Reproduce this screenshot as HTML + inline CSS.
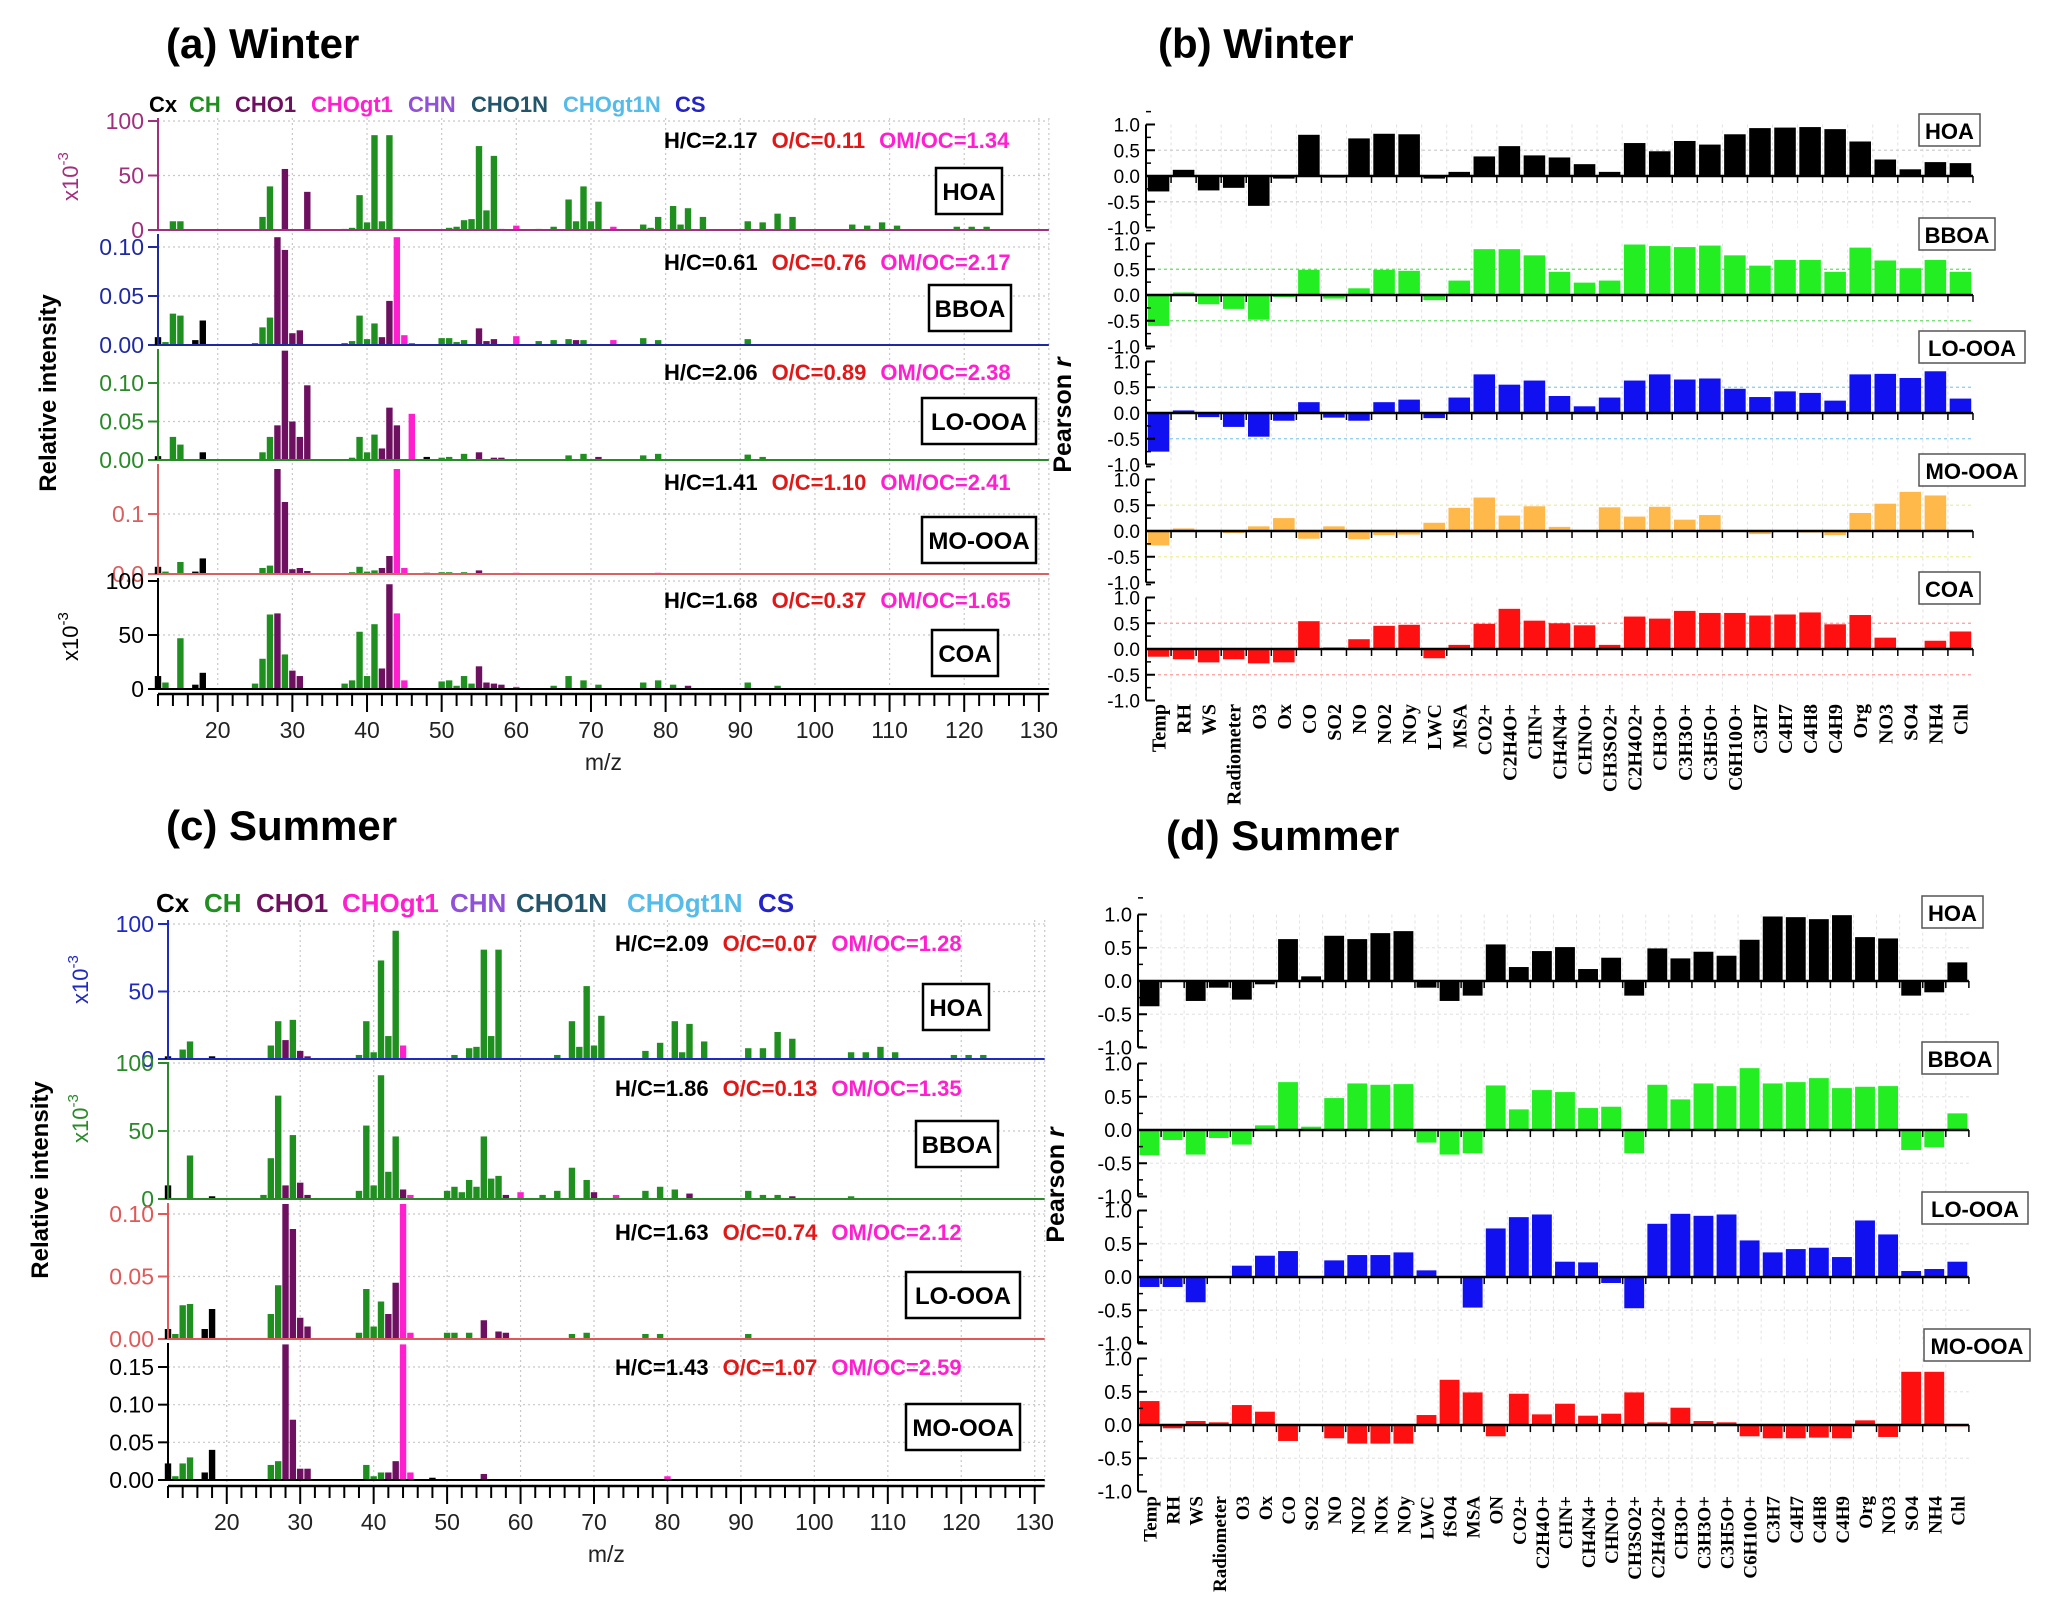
<!DOCTYPE html>
<html><head><meta charset="utf-8"><style>
html,body{margin:0;padding:0;background:#fff;}
svg{display:block;}
text{font-family:"Liberation Sans",sans-serif;}
</style></head><body>
<svg id="fig" width="2067" height="1605" viewBox="0 0 2067 1605" xmlns="http://www.w3.org/2000/svg">
<text x="166" y="58" font-size="42" font-weight="bold">(a) Winter</text>
<text x="1158" y="58" font-size="42" font-weight="bold">(b) Winter</text>
<text x="166" y="840" font-size="42" font-weight="bold">(c) Summer</text>
<text x="1166" y="850" font-size="42" font-weight="bold">(d) Summer</text>
</svg>
<script>
// ---------- data: mass spectra [m/z, family, value] ----------
const wHOA=[[14,'CH',8],[15,'CH',8],[26,'CH',12],[27,'CH',40],[29,'CHO1',56],[32,'CHO1',35],[37,'CH',1],[38,'CH',2],[39,'CH',32],[40,'CH',7],[41,'CH',87],[42,'CH',8],[43,'CH',87],[44,'CHN',1],[51,'CH',2],[52,'CH',3],[53,'CH',9],[54,'CH',10],[55,'CH',77],[56,'CH',18],[57,'CH',68],[58,'CHO1',1],[60,'CHOgt1',4],[63,'CH',1],[65,'CH',3],[67,'CH',28],[68,'CH',8],[69,'CH',40],[70,'CH',8],[71,'CH',26],[73,'CHOgt1',3],[77,'CH',5],[78,'CH',2],[79,'CH',12],[81,'CH',22],[82,'CH',5],[83,'CH',20],[85,'CH',12],[91,'CH',8],[93,'CH',7],[95,'CH',15],[97,'CH',12],[105,'CH',5],[107,'CH',4],[109,'CH',7],[111,'CH',4],[119,'CH',3],[121,'CH',3],[123,'CH',3]];
const wBBOA=[[12,'Cx',0.008],[13,'CH',0.003],[14,'CH',0.032],[15,'CH',0.030],[17,'Cx',0.005],[18,'Cx',0.025],[25,'CH',0.002],[26,'CH',0.018],[27,'CH',0.028],[28,'CHO1',0.110],[29,'CHO1',0.097],[30,'CHO1',0.012],[31,'CHO1',0.015],[37,'CH',0.002],[38,'CH',0.004],[39,'CH',0.030],[40,'CH',0.006],[41,'CH',0.022],[42,'CHO1',0.008],[43,'CHO1',0.045],[44,'CHOgt1',0.110],[45,'CHOgt1',0.010],[46,'CHOgt1',0.002],[50,'CH',0.007],[51,'CH',0.007],[52,'CH',0.003],[53,'CH',0.005],[55,'CHO1',0.017],[56,'CHO1',0.004],[57,'CHO1',0.006],[60,'CHOgt1',0.009],[63,'CH',0.004],[65,'CH',0.005],[67,'CH',0.006],[68,'CHO1',0.005],[69,'CH',0.005],[73,'CHOgt1',0.005],[77,'CH',0.007],[79,'CH',0.005],[91,'CH',0.006]];
const wLO=[[12,'Cx',0.005],[14,'CH',0.030],[15,'CH',0.020],[18,'Cx',0.010],[26,'CH',0.010],[27,'CH',0.030],[28,'CHO1',0.045],[29,'CHO1',0.142],[30,'CHO1',0.050],[31,'CHO1',0.030],[32,'CHO1',0.097],[38,'CH',0.003],[39,'CH',0.030],[40,'CH',0.010],[41,'CH',0.033],[42,'CHO1',0.015],[43,'CHO1',0.068],[44,'CHO1',0.045],[46,'CHOgt1',0.060],[48,'Cx',0.004],[50,'CH',0.003],[51,'CH',0.004],[53,'CH',0.008],[55,'CHO1',0.010],[57,'CHO1',0.003],[58,'CHO1',0.003],[67,'CH',0.006],[69,'CH',0.008],[71,'CHO1',0.004],[77,'CH',0.006],[79,'CH',0.008],[91,'CH',0.007],[93,'CH',0.004]];
const wMO=[[12,'Cx',0.012],[13,'CH',0.004],[15,'CH',0.020],[17,'Cx',0.004],[18,'Cx',0.026],[26,'CH',0.010],[27,'CH',0.014],[28,'CHO1',0.175],[29,'CHO1',0.120],[30,'CHO1',0.008],[31,'CHO1',0.010],[32,'CHO1',0.005],[38,'CH',0.003],[39,'CH',0.012],[40,'CH',0.004],[41,'CH',0.006],[42,'CHO1',0.010],[43,'CHO1',0.030],[44,'CHOgt1',0.175],[45,'CHOgt1',0.010],[48,'Cx',0.002],[50,'CH',0.003],[51,'CH',0.003],[53,'CH',0.003],[55,'CHO1',0.006],[60,'CHOgt1',0.002],[79,'CHOgt1',0.002]];
const wCOA=[[12,'Cx',12],[13,'CH',6],[15,'CH',47],[17,'Cx',4],[18,'Cx',15],[25,'CH',5],[26,'CH',28],[27,'CH',69],[28,'CHO1',70],[29,'CH',32],[30,'CHO1',17],[31,'CHO1',12],[37,'CH',5],[38,'CH',8],[39,'CH',53],[40,'CH',12],[41,'CH',60],[42,'CHO1',19],[43,'CHO1',97],[44,'CHOgt1',70],[45,'CHOgt1',8],[50,'CH',7],[51,'CH',8],[52,'CH',3],[53,'CH',12],[54,'CH',5],[55,'CHO1',21],[56,'CHO1',6],[57,'CHO1',5],[58,'CHO1',4],[60,'CHOgt1',2],[65,'CH',3],[67,'CH',12],[69,'CH',8],[71,'CH',4],[77,'CH',6],[79,'CH',8],[81,'CH',4],[83,'CHO1',3],[91,'CH',6],[95,'CH',3]];
const sHOA=[[12,'Cx',2],[14,'CH',7],[15,'CH',13],[18,'Cx',2],[26,'CH',10],[27,'CH',28],[28,'CHO1',14],[29,'CH',29],[30,'CHO1',6],[31,'CHO1',2],[38,'CH',3],[39,'CH',28],[40,'CH',5],[41,'CH',73],[42,'CH',17],[43,'CH',95],[44,'CHOgt1',10],[51,'CH',3],[53,'CH',8],[54,'CH',9],[55,'CH',81],[56,'CH',17],[57,'CH',81],[65,'CH',3],[67,'CH',28],[68,'CH',9],[69,'CH',54],[70,'CH',10],[71,'CH',32],[77,'CH',6],[79,'CH',12],[81,'CH',28],[82,'CH',5],[83,'CH',26],[85,'CH',13],[91,'CH',8],[93,'CH',8],[95,'CH',20],[97,'CH',15],[105,'CH',5],[107,'CH',5],[109,'CH',9],[111,'CH',5],[119,'CH',3],[121,'CH',3],[123,'CH',3]];
const sBBOA=[[12,'Cx',10],[15,'CH',32],[18,'Cx',2],[25,'CH',3],[26,'CH',30],[27,'CH',76],[28,'CHO1',10],[29,'CH',47],[30,'CHO1',12],[31,'CHO1',3],[38,'CH',6],[39,'CH',54],[40,'CH',10],[41,'CH',91],[42,'CH',20],[43,'CH',46],[44,'CHO1',7],[45,'CHOgt1',3],[50,'CH',6],[51,'CH',9],[52,'CH',5],[53,'CH',14],[54,'CH',9],[55,'CH',46],[56,'CH',15],[57,'CH',17],[58,'CHO1',3],[60,'CHOgt1',5],[63,'CH',3],[65,'CH',6],[67,'CH',23],[69,'CH',14],[70,'CHO1',5],[73,'CHOgt1',3],[77,'CH',6],[79,'CH',9],[81,'CH',7],[83,'CHO1',4],[91,'CH',6],[93,'CH',3],[95,'CH',3],[97,'CHO1',2],[105,'CH',2]];
const sLO=[[12,'Cx',0.008],[13,'CH',0.004],[14,'CH',0.027],[15,'CH',0.028],[17,'Cx',0.008],[18,'Cx',0.024],[26,'CH',0.020],[27,'CH',0.043],[28,'CHO1',0.108],[29,'CHO1',0.088],[30,'CHO1',0.017],[31,'CHO1',0.010],[38,'CH',0.005],[39,'CH',0.040],[40,'CH',0.010],[41,'CH',0.030],[42,'CHO1',0.020],[43,'CHO1',0.045],[44,'CHOgt1',0.108],[45,'CHOgt1',0.005],[50,'CH',0.005],[51,'CH',0.005],[53,'CH',0.005],[55,'CHO1',0.015],[57,'CHO1',0.006],[58,'CHO1',0.005],[67,'CH',0.004],[69,'CH',0.005],[77,'CH',0.004],[79,'CH',0.004],[91,'CH',0.004]];
const sMO=[[12,'Cx',0.022],[13,'CH',0.005],[14,'CH',0.022],[15,'CH',0.030],[17,'Cx',0.010],[18,'Cx',0.040],[26,'CH',0.020],[27,'CH',0.025],[28,'CHO1',0.180],[29,'CHO1',0.080],[30,'CHO1',0.015],[31,'CHO1',0.015],[39,'CH',0.020],[40,'CH',0.005],[41,'CH',0.010],[42,'CHO1',0.010],[43,'CHO1',0.025],[44,'CHOgt1',0.180],[45,'CHOgt1',0.010],[48,'Cx',0.003],[55,'CHO1',0.008],[80,'CHOgt1',0.005]];
const mzTicks=[20,30,40,50,60,70,80,90,100,110,120,130];
const famNames=['Cx','CH','CHO1','CHOgt1','CHN','CHO1N','CHOgt1N','CS'];
// ---------- data: Pearson r ----------
const catsW=['Temp','RH','WS','Radiometer','O3','Ox','CO','SO2','NO','NO2','NOy','LWC','MSA','CO2+','C2H4O+','CHN+','CH4N4+','CHNO+','CH3SO2+','C2H4O2+','CH3O+','C3H3O+','C3H5O+','C6H10O+','C3H7','C4H7','C4H8','C4H9','Org','NO3','SO4','NH4','Chl'];
const rW_HOA=[-0.3,0.12,-0.28,-0.23,-0.58,-0.05,0.8,-0.03,0.73,0.82,0.81,-0.05,0.08,0.38,0.58,0.4,0.36,0.23,0.08,0.64,0.48,0.68,0.61,0.81,0.93,0.94,0.95,0.91,0.67,0.32,0.13,0.27,0.25];
const rW_BBOA=[-0.6,0.05,-0.18,-0.27,-0.48,-0.04,0.49,-0.07,0.13,0.49,0.47,-0.1,0.28,0.89,0.89,0.77,0.45,0.24,0.28,0.98,0.95,0.93,0.96,0.77,0.57,0.68,0.68,0.45,0.92,0.67,0.52,0.68,0.45];
const rW_LO=[-0.75,0.05,-0.08,-0.27,-0.46,-0.15,0.21,-0.09,-0.15,0.21,0.26,-0.1,0.3,0.75,0.55,0.63,0.33,0.13,0.3,0.63,0.75,0.65,0.67,0.47,0.31,0.42,0.39,0.24,0.75,0.76,0.68,0.81,0.28];
const rW_MO=[-0.28,0.05,0,-0.04,0.09,0.25,-0.15,0.09,-0.16,-0.08,-0.07,0.16,0.45,0.65,0.3,0.48,0.08,-0.02,0.46,0.28,0.47,0.22,0.31,0,-0.06,0,-0.03,-0.08,0.35,0.53,0.76,0.69,0];
const rW_COA=[-0.15,-0.2,-0.26,-0.2,-0.28,-0.26,0.54,0.03,0.19,0.45,0.47,-0.18,0.08,0.49,0.78,0.55,0.5,0.46,0.08,0.63,0.59,0.74,0.7,0.7,0.65,0.67,0.71,0.48,0.66,0.22,0.02,0.16,0.34];
const catsS=['Temp','RH','WS','Radiometer','O3','Ox','CO','SO2','NO','NO2','NOx','NOy','LWC','fSO4','MSA','ON','CO2+','C2H4O+','CHN+','CH4N4+','CHNO+','CH3SO2+','C2H4O2+','CH3O+','C3H3O+','C3H5O+','C6H10O+','C3H7','C4H7','C4H8','C4H9','Org','NO3','SO4','NH4','Chl'];
const rS_HOA=[-0.38,0,-0.3,-0.1,-0.28,-0.05,0.63,0.07,0.68,0.63,0.72,0.75,-0.1,-0.3,-0.22,0.55,0.21,0.45,0.51,0.18,0.35,-0.22,0.49,0.34,0.44,0.38,0.62,0.97,0.96,0.93,0.99,0.66,0.64,-0.22,-0.17,0.28];
const rS_BBOA=[-0.38,-0.15,-0.37,-0.12,-0.22,0.07,0.72,0.05,0.48,0.7,0.68,0.69,-0.19,-0.37,-0.35,0.67,0.31,0.6,0.57,0.33,0.35,-0.35,0.68,0.46,0.7,0.66,0.93,0.7,0.72,0.78,0.63,0.65,0.66,-0.3,-0.26,0.25];
const rS_LO=[-0.15,-0.15,-0.38,0,0.17,0.32,0.39,-0.02,0.25,0.33,0.33,0.37,0.1,0,-0.46,0.73,0.9,0.94,0.23,0.22,-0.09,-0.47,0.8,0.95,0.92,0.94,0.55,0.37,0.42,0.44,0.3,0.85,0.64,0.09,0.12,0.23];
const rS_MO=[0.36,-0.05,0.06,0.04,0.3,0.2,-0.24,0,-0.2,-0.28,-0.28,-0.28,0.15,0.68,0.49,-0.17,0.47,0.16,0.32,0.14,0.17,0.49,0.04,0.26,0.06,0.04,-0.17,-0.2,-0.2,-0.19,-0.2,0.07,-0.18,0.8,0.8,-0.02];
const rTicks=[1.0,0.5,0.0,-0.5,-1.0];

const NS='http://www.w3.org/2000/svg';
const svg=document.getElementById('fig');
const famColor={Cx:'#000000',CH:'#1f8f1f',CHO1:'#6e1060',CHOgt1:'#ff1fcf',CHN:'#9050d8',CHO1N:'#23556a',CHOgt1N:'#55bbe8',CS:'#2323c8'};
function el(tag,attrs,parent){const e=document.createElementNS(NS,tag);for(const k in attrs)e.setAttribute(k,attrs[k]);(parent||svg).appendChild(e);return e;}
function txt(x,y,s,attrs,parent){const t=el('text',Object.assign({x:x,y:y},attrs||{}),parent);t.textContent=s;return t;}

// ---------- spectra ----------
function spectrum(cfg){
  const g=el('g',{});
  
  
  const xs=m=>cfg.x0+(m-12)*cfg.dx;
  const xEnd=xs(130)+10;
  famNames.forEach((f,i)=>{
    const t=txt(cfg.legPos[i],cfg.legY,f,{'font-size':cfg.legFs,'font-weight':'bold',fill:famColor[f]},g);
    
    
  });
  const topAll=cfg.panels[0].top;
  const bot=cfg.axisY;
  mzTicks.forEach(m=>{el('line',{x1:xs(m),x2:xs(m),y1:topAll,y2:bot,stroke:'#c8c8c8','stroke-width':1.2,'stroke-dasharray':'2,3'},g);});
  el('line',{x1:xEnd,x2:xEnd,y1:topAll,y2:bot,stroke:'#c8c8c8','stroke-width':1.2,'stroke-dasharray':'2,3'},g);
  cfg.panels.forEach(p=>{
    const pg=el('g',{},g);
    
    
    const k=(p.zero-p.refY)/p.refVal;
    const ys=v=>p.zero-v*k;
    p.ticks.forEach((t,i)=>{
      const y=ys(t);
      if(t!==0) el('line',{x1:cfg.x0,x2:xEnd,y1:y,y2:y,stroke:'#c8c8c8','stroke-width':1.2,'stroke-dasharray':'2,3'},pg);
      el('line',{x1:cfg.x0-10,x2:cfg.x0,y1:y,y2:y,stroke:p.color,'stroke-width':2},pg);
      const tl=txt(cfg.x0-14,y+8,p.tickLabels[i],{'font-size':23,fill:p.color,'text-anchor':'end'},pg);
      
      
    });
    if(p.exp){
      const ex=txt(0,0,'x10',{'font-size':22,fill:p.color,transform:`translate(${cfg.x0-80},${p.refY+80}) rotate(-90)`},pg);
      const sup=el('tspan',{dy:-10,'font-size':15},ex);sup.textContent='-3';
      
      
    }
    p.data.forEach(d=>{
      const h=Math.min(d[2]*k,p.zero-p.top);
      const r=el('rect',{x:xs(d[0])-3.2,y:p.zero-h,width:6.4,height:h,fill:famColor[d[1]]},pg);
      
      
    });
    el('line',{x1:cfg.x0,x2:cfg.x0,y1:p.top,y2:p.zero,stroke:p.color,'stroke-width':2},pg);
    el('line',{x1:cfg.x0,x2:xEnd,y1:p.zero,y2:p.zero,stroke:p.color,'stroke-width':2},pg);
    const st=txt(cfg.statX,p.statY,'',{'font-size':22,'font-weight':'bold'},pg);
    
    
    [['H/C='+p.st[0],'#000'],['O/C='+p.st[1],'#e01818'],['OM/OC='+p.st[2],'#ff1fcf']].forEach((s,i)=>{const ts=el('tspan',{fill:s[1],dx:i?14:0},st);ts.textContent=s[0];});
    const bw=p.label.length*16+18;
    const bx=p.boxX, by=p.boxY;
    el('rect',{x:bx,y:by,width:bw,height:46,fill:'#fff',stroke:'#000','stroke-width':2.5},pg);
    const bl=txt(bx+bw/2,by+32,p.label,{'font-size':24,'font-weight':'bold','text-anchor':'middle'},pg);
    
    
  });
  el('line',{x1:cfg.x0,x2:xEnd,y1:bot,y2:bot,stroke:'#000','stroke-width':2.5},g);
  for(let m=12;m<=130;m+=2){el('line',{x1:xs(m),x2:xs(m),y1:bot,y2:bot+(m%10===0?18:12),stroke:'#000','stroke-width':2},g);}
  mzTicks.forEach(m=>{const t=txt(xs(m),bot+44,String(m),{'font-size':23,'text-anchor':'middle',fill:'#222'},g);});
  const xl=txt((cfg.x0+xEnd)/2,bot+76,'m/z',{'font-size':23,'text-anchor':'middle',fill:'#222'},g);
  
  const yl=txt(0,0,'Relative intensity',{'font-size':24,'font-weight':'bold','text-anchor':'middle',transform:`translate(${cfg.ylabX},${cfg.ylabY}) rotate(-90)`},g);
  
}

spectrum({name:'spectra-winter',x0:158,dx:7.465,axisY:694,legPos:[149,189,235,311,408,471,563,675],legFs:22,legY:112,statX:664,ylabX:56,ylabY:393,
 panels:[
  {label:'HOA',data:wHOA,zero:230,refY:121,refVal:100,top:118,color:'#a0307e',ticks:[0,50,100],tickLabels:['0','50','100'],exp:true,st:['2.17','0.11','1.34'],statY:148,boxX:936,boxY:168},
  {label:'BBOA',data:wBBOA,zero:345,refY:247,refVal:0.10,top:234,color:'#1f2aa0',ticks:[0,0.05,0.10],tickLabels:['0.00','0.05','0.10'],st:['0.61','0.76','2.17'],statY:270,boxX:929,boxY:285},
  {label:'LO-OOA',data:wLO,zero:460,refY:383,refVal:0.10,top:349,color:'#2a8a2a',ticks:[0,0.05,0.10],tickLabels:['0.00','0.05','0.10'],st:['2.06','0.89','2.38'],statY:380,boxX:922,boxY:398},
  {label:'MO-OOA',data:wMO,zero:574,refY:514,refVal:0.1,top:464,color:'#d86060',ticks:[0,0.1],tickLabels:['0.0','0.1'],st:['1.41','1.10','2.41'],statY:490,boxX:922,boxY:517},
  {label:'COA',data:wCOA,zero:689,refY:581,refVal:100,top:578,color:'#000000',ticks:[0,50,100],tickLabels:['0','50','100'],exp:true,st:['1.68','0.37','1.65'],statY:608,boxX:932,boxY:630}
 ]});
spectrum({name:'spectra-summer',x0:168,dx:7.345,axisY:1486,legPos:[156,204,256,342,450,516,627,758],legFs:26,legY:912,statX:615,ylabX:48,ylabY:1180,
 panels:[
  {label:'HOA',data:sHOA,zero:1059,refY:924,refVal:100,top:920,color:'#1f2ac0',ticks:[0,50,100],tickLabels:['0','50','100'],exp:true,st:['2.09','0.07','1.28'],statY:951,boxX:923,boxY:984},
  {label:'BBOA',data:sBBOA,zero:1199,refY:1063,refVal:100,top:1062,color:'#2a8a2a',ticks:[0,50,100],tickLabels:['0','50','100'],exp:true,st:['1.86','0.13','1.35'],statY:1096,boxX:916,boxY:1121},
  {label:'LO-OOA',data:sLO,zero:1339,refY:1214,refVal:0.10,top:1203,color:'#e05858',ticks:[0,0.05,0.10],tickLabels:['0.00','0.05','0.10'],st:['1.63','0.74','2.12'],statY:1240,boxX:906,boxY:1272},
  {label:'MO-OOA',data:sMO,zero:1480,refY:1367,refVal:0.15,top:1343,color:'#000000',ticks:[0,0.05,0.10,0.15],tickLabels:['0.00','0.05','0.10','0.15'],st:['1.43','1.07','2.59'],statY:1375,boxX:906,boxY:1404}
 ]});

// ---------- correlation ----------
function corr(cfg){
  const g=el('g',{});
  
  
  const n=cfg.cats.length;
  const xEnd=cfg.x0+n*cfg.step;
  const xc=i=>cfg.x0+(i+0.5)*cfg.step;
  cfg.panels.forEach(p=>{
    const pg=el('g',{},g);
    
    
    const ys=v=>p.zero-v*cfg.unit;
    for(let i=1;i<n;i++){el('line',{x1:cfg.x0+i*cfg.step,x2:cfg.x0+i*cfg.step,y1:ys(1),y2:ys(-1),stroke:'#e2e2e2','stroke-width':1,'stroke-dasharray':'3,3'},pg);}
    [0.5,-0.5].forEach(v=>el('line',{x1:cfg.x0,x2:xEnd,y1:ys(v),y2:ys(v),stroke:p.grid,'stroke-width':1.3,'stroke-dasharray':'3,3'},pg));
    p.vals.forEach((v,i)=>{
      const y=Math.min(ys(v),p.zero), h=Math.abs(v)*cfg.unit;
      const r=el('rect',{x:xc(i)-cfg.step*0.43,y:y,width:cfg.step*0.86,height:h,fill:p.color},pg);
      
      
    });
    el('line',{x1:cfg.x0,x2:xEnd,y1:p.zero,y2:p.zero,stroke:'#000','stroke-width':2.5},pg);
    for(let i=0;i<=n;i++) el('line',{x1:cfg.x0+i*cfg.step,x2:cfg.x0+i*cfg.step,y1:p.zero,y2:p.zero+7,stroke:'#000','stroke-width':1.5},pg);
    el('line',{x1:cfg.x0,x2:cfg.x0,y1:ys(1),y2:ys(-1),stroke:'#000','stroke-width':2},pg);
    rTicks.forEach(t=>{
      el('line',{x1:cfg.x0,x2:cfg.x0+9,y1:ys(t),y2:ys(t),stroke:'#000','stroke-width':2},pg);
      el('line',{x1:cfg.x0,x2:cfg.x0+5,y1:ys(t+0.25),y2:ys(t+0.25),stroke:'#000','stroke-width':1.5},pg);
      const tl=txt(cfg.x0-6,ys(t)+7,t.toFixed(1),{'font-size':cfg.fs,'text-anchor':'end'},pg);
      
      
    });
    const bw=p.label.length*15+16;
    el('rect',{x:p.boxX,y:p.boxY,width:bw,height:32,fill:'#fff',stroke:'#555','stroke-width':1.5},pg);
    const bl=txt(p.boxX+bw/2,p.boxY+25,p.label,{'font-size':22,'font-weight':'bold','text-anchor':'middle'},pg);
    
    
  });
  cfg.cats.forEach((c,i)=>{
    const t=txt(0,0,c,{style:'font-family:"Liberation Serif",serif;font-weight:bold;font-size:'+cfg.cfs+'px','text-anchor':'end',transform:`translate(${xc(i)+7},${cfg.labY}) rotate(-90)`},g);
    
    
  });
  const yl=txt(0,0,'Pearson ',{'font-size':25,'font-weight':'bold','text-anchor':'middle',transform:`translate(${cfg.ylabX},${cfg.ylabY}) rotate(-90)`},g);
  const it=el('tspan',{'font-style':'italic'},yl);it.textContent='r';
  
}
corr({name:'pearson-winter',cats:catsW,x0:1146,step:25.06,unit:51.5,labY:704,fs:19,cfs:20,ylabX:1071,ylabY:415,
 panels:[
  {label:'HOA',vals:rW_HOA,zero:176,color:'#000',grid:'#cfcfcf',boxX:1919,boxY:114},
  {label:'BBOA',vals:rW_BBOA,zero:295,color:'#22ee22',grid:'#66dd66',boxX:1919,boxY:218},
  {label:'LO-OOA',vals:rW_LO,zero:413,color:'#1010f0',grid:'#88ccee',boxX:1919,boxY:331},
  {label:'MO-OOA',vals:rW_MO,zero:531,color:'#ffb84a',grid:'#eeee99',boxX:1919,boxY:454},
  {label:'COA',vals:rW_COA,zero:649,color:'#ff1010',grid:'#ff9999',boxX:1919,boxY:572}
 ]});
corr({name:'pearson-summer',cats:catsS,x0:1138,step:23.08,unit:66.5,labY:1496,fs:20,cfs:19,ylabX:1064,ylabY:1185,
 panels:[
  {label:'HOA',vals:rS_HOA,zero:981,color:'#000',grid:'#e6e6e6',boxX:1922,boxY:896},
  {label:'BBOA',vals:rS_BBOA,zero:1130,color:'#22ee22',grid:'#e6e6e6',boxX:1922,boxY:1042},
  {label:'LO-OOA',vals:rS_LO,zero:1277,color:'#1010f0',grid:'#e6e6e6',boxX:1922,boxY:1192},
  {label:'MO-OOA',vals:rS_MO,zero:1425,color:'#ff1010',grid:'#e6e6e6',boxX:1924,boxY:1329}
 ]});
</script>
</body></html>
